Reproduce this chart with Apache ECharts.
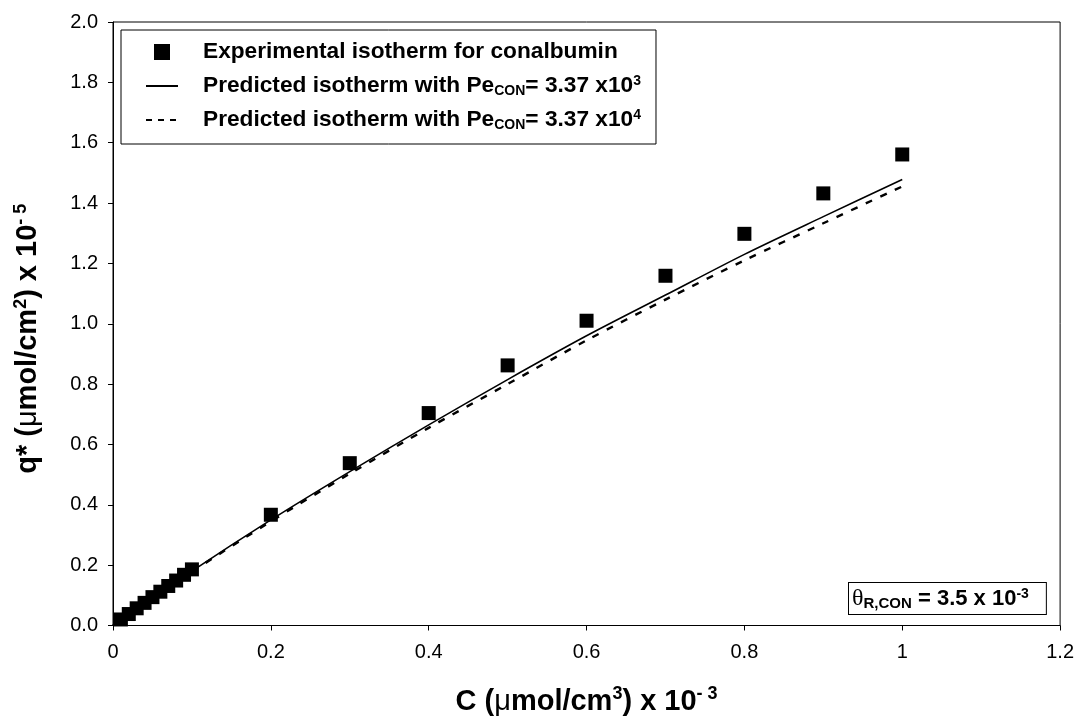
<!DOCTYPE html>
<html><head><meta charset="utf-8">
<script src="https://cdn.jsdelivr.net/npm/echarts@6/dist/echarts.min.js"></script>
<style>html,body{margin:0;padding:0;background:#fff}#c{width:1077px;height:721px}</style>
</head><body><div id="c"></div>
<script>
const expX = [0.01,0.02,0.03,0.04,0.05,0.06,0.07,0.08,0.09,0.10,0.2,0.3,0.4,0.5,0.6,0.7,0.8,0.9,1.0];
const expY = [0.02,0.038,0.057,0.075,0.094,0.112,0.131,0.149,0.168,0.186,0.367,0.538,0.704,0.862,1.010,1.159,1.298,1.432,1.561];
const predX = [0,0.1,0.2,0.3,0.4,0.5,0.6,0.7,0.8,0.9,1.0];
const predY3 = [0,0.18,0.35,0.51,0.665,0.815,0.96,1.095,1.23,1.355,1.478];
const predY4 = [0,0.178,0.345,0.503,0.655,0.80,0.945,1.08,1.21,1.333,1.455];
const xTicks = [0,0.2,0.4,0.6,0.8,1,1.2];
const yTicks = [0,0.2,0.4,0.6,0.8,1.0,1.2,1.4,1.6,1.8,2.0];

const FONT = 'Liberation Sans, Arial, sans-serif';
const zip = (xs, ys) => xs.map((x, i) => [x, ys[i]]);
const legendRich = {
  b0: {fontFamily: FONT, fontWeight: 'bold', fontSize: 22.7, color: '#000', padding: [0,0,0,20], lineHeight: 24},
  b: {fontFamily: FONT, fontWeight: 'bold', fontSize: 22.7, color: '#000', lineHeight: 24},
  sub: {fontFamily: FONT, fontWeight: 'bold', fontSize: 14, color: '#000', verticalAlign: 'bottom', padding: [9,0,0,0]},
  sup: {fontFamily: FONT, fontWeight: 'bold', fontSize: 14, color: '#000', verticalAlign: 'top', padding: [0,0,9,0]}
};
const titleRich = {
  b: {fontFamily: FONT, fontWeight: 'bold', fontSize: 29, color: '#000'},
  mu: {fontFamily: FONT, fontWeight: 'normal', fontSize: 29, color: '#000'},
  sup: {fontFamily: FONT, fontWeight: 'bold', fontSize: 18, color: '#000', verticalAlign: 'top', padding: [0,0,14,0]}
};
const chart = echarts.init(document.getElementById('c'));
chart.setOption({
  animation: false,
  backgroundColor: '#fff',
  grid: {left: 113, right: 15, top: 22, bottom: 94, show: true, borderColor: '#000', borderWidth: 1, backgroundColor: 'transparent'},
  xAxis: {
    type: 'value', min: 0, max: 1.2, interval: 0.2,
    splitLine: {show: false},
    axisLine: {onZero: false, lineStyle: {color: '#000', width: 1}},
    axisTick: {show: true, length: 5, lineStyle: {color: '#000'}},
    axisLabel: {fontFamily: FONT, fontSize: 20, color: '#000', margin: 17,
      formatter: v => { const t = xTicks.find(a => Math.abs(a - v) < 1e-9); return t === undefined ? '' : String(t); }},
    name: '{b|C (}{mu|μ}{b|mol/cm}{sup|3}{b|) x 10}{sup|- 3}',
    nameLocation: 'middle', nameGap: 60,
    nameTextStyle: {rich: titleRich}
  },
  yAxis: {
    type: 'value', min: 0, max: 2.0, interval: 0.2,
    splitLine: {show: false},
    axisLine: {show: true, onZero: false, lineStyle: {color: '#000', width: 1}},
    axisTick: {show: true, length: 5, lineStyle: {color: '#000'}},
    axisLabel: {fontFamily: FONT, fontSize: 20, color: '#000', margin: 15,
      formatter: v => { const t = yTicks.find(a => Math.abs(a - v) < 1e-9); return t === undefined ? '' : t.toFixed(1); }},
    name: '{b|q* (}{mu|μ}{b|mol/cm}{sup|2}{b|) x 10}{sup|- 5}',
    nameLocation: 'middle', nameGap: 69, nameRotate: 90,
    nameTextStyle: {rich: titleRich, padding: [0, 30, 0, 0]}
  },
  legend: {
    orient: 'vertical', left: 121, top: 30,
    data: [
      {name: 'exp', icon: 'path://M0,0L10,0L10,10L0,10Z'},
      {name: 'p3', itemStyle: {opacity: 0}},
      {name: 'p4', itemStyle: {opacity: 0}, lineStyle: {type: [6, 6]}}
    ],
    symbolKeepAspect: true,
    itemWidth: 32, itemHeight: 16, itemGap: 10,
    padding: [10, 15, 12, 24],
    borderColor: '#000', borderWidth: 1,
    backgroundColor: '#fff',
    formatter: n => {
      if (n === 'exp') return '{b0|Experimental isotherm for conalbumin}';
      if (n === 'p3') return '{b0|Predicted isotherm with Pe}{sub|CON}{b|= 3.37 x10}{sup|3}';
      return '{b0|Predicted isotherm with Pe}{sub|CON}{b|= 3.37 x10}{sup|4}';
    },
    textStyle: {rich: legendRich, fontSize: 22.7, lineHeight: 24}
  },
  series: [
    {name: 'p3', type: 'line', data: zip(predX, predY3), symbol: 'none', smooth: 0.3, z: 2,
      lineStyle: {color: '#000', width: 1.6}, itemStyle: {color: '#000', opacity: 0}},
    {name: 'p4', type: 'line', data: zip(predX, predY4), symbol: 'none', smooth: 0.3, z: 2,
      lineStyle: {color: '#000', width: 2.4, type: [7, 9]}, itemStyle: {color: '#000', opacity: 0}},
    {name: 'exp', type: 'scatter', data: zip(expX, expY), symbol: 'rect', symbolSize: 14, z: 3,
      itemStyle: {color: '#000', opacity: 1}}
  ],
  graphic: [{
    type: 'text', left: 848, top: 582, z: 10,
    style: {
      text: '{th|θ}{sub|R,CON}{b| = 3.5 x 10}{sup|-3}',
      rich: {
        th: {fontFamily: 'Liberation Serif, serif', fontSize: 24, color: '#000', lineHeight: 24},
        b: {fontFamily: FONT, fontWeight: 'bold', fontSize: 22, color: '#000', lineHeight: 24},
        sub: {fontFamily: FONT, fontWeight: 'bold', fontSize: 15, color: '#000', verticalAlign: 'bottom', padding: [9,0,0,0]},
        sup: {fontFamily: FONT, fontWeight: 'bold', fontSize: 14, color: '#000', verticalAlign: 'top', padding: [0,0,9,0]}
      },
      backgroundColor: '#fff', borderColor: '#000', borderWidth: 1,
      padding: [4, 17, 3, 3]
    }
  }]
});
</script></body></html>
